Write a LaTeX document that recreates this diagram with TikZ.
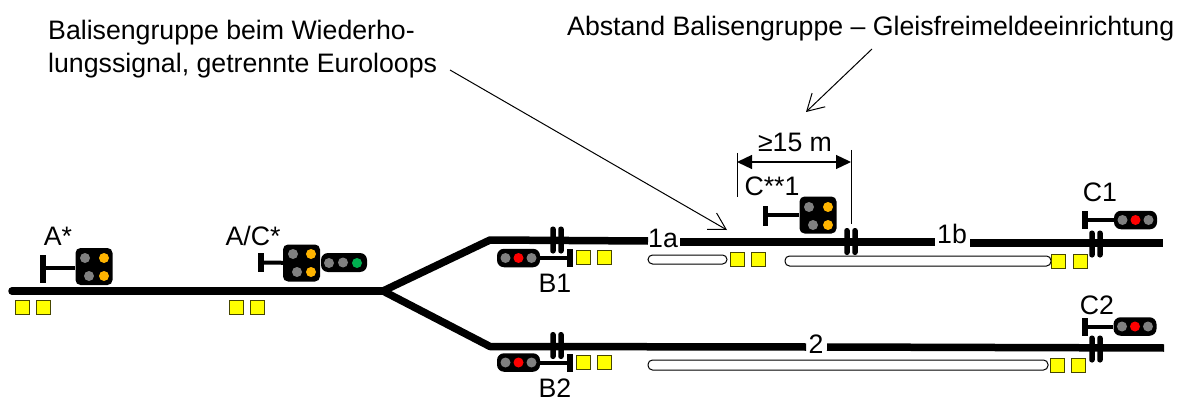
\documentclass[tikz,border=0pt]{standalone}
\usepackage{fontspec}
\setmainfont{Liberation Sans}
\usetikzlibrary{arrows.meta}
\definecolor{lampamber}{RGB}{255,180,0}
\definecolor{lampgreen}{RGB}{0,176,80}
\definecolor{lampgrey}{RGB}{128,128,128}
\definecolor{balisefill}{RGB}{255,255,0}
\definecolor{baliseline}{RGB}{70,70,0}
\tikzset{
	lab/.style={inner sep=0pt,font=\fontsize{26.7}{33}\selectfont},
	track/.style={line width=7.5pt,line join=round},
	balise/.style={rectangle,draw=baliseline,fill=balisefill,line width=1pt,inner sep=0pt,minimum size=14pt},
	joint/.style={rectangle,rounded corners=2.5pt,fill=black,inner sep=0pt,minimum width=5.5pt},
	mast/.style={rectangle,fill=black,inner sep=0pt,minimum width=5.5pt},
	stem/.style={line width=4pt},
	headsq/.style={rectangle,rounded corners=5pt,fill=black,inner sep=0pt,minimum width=37pt,minimum height=37pt},
	headbar/.style={rectangle,rounded corners=7pt,fill=black,inner sep=0pt,minimum width=43pt,minimum height=18.5pt},
	lamp/.style={circle,fill=#1,inner sep=0pt,minimum size=10pt},
	loopbox/.style={draw=black,fill=white,line width=1pt,rounded corners=4.5pt},
	thinline/.style={line width=1pt},
	lead/.style={line width=1pt,-{Straight Barb[length=16.5pt,width=19pt]}}
}
\begin{document}
\begin{tikzpicture}[x=1pt,y=-1pt]
	\useasboundingbox (0,0) rectangle (1189,401);
	% tracks
	\draw[track,line cap=round] (12,291) -- (383,291);
	\draw[track] (383,291) -- (490,240) -- (648,241);
	\draw[track] (383,291) -- (490,346.5) -- (806,347);
	\draw[track] (680,242) -- (935,242);
	\draw[track] (970,243) -- (1163,243);
	\draw[track] (827,347) -- (1164,348);
	% euroloops
	\draw[loopbox] (648,255) rectangle (727,264);
	\draw[loopbox] (785,256) rectangle (1051,266);
	\draw[loopbox] (648,360) rectangle (1048,370);
	% balises
	\node[balise] (ba1) at (22.5,307) {};
	\node[balise] (ba2) at (43.5,307) {};
	\node[balise] (bac1) at (236,307) {};
	\node[balise] (bac2) at (257,307) {};
	\node[balise] (bb1) at (583,257) {};
	\node[balise] (bb2) at (604,257) {};
	\node[balise] (bl1) at (737,259) {};
	\node[balise] (bl2) at (758,259) {};
	\node[balise] (bc1) at (1058,261) {};
	\node[balise] (bc2) at (1080,261) {};
	\node[balise] (bd1) at (583,362) {};
	\node[balise] (bd2) at (604,362) {};
	\node[balise] (be1) at (1057,365) {};
	\node[balise] (be2) at (1078,365) {};
	% insulated joints
	\foreach \jx/\jy/\jn in {553/240/ja,561/240/jb,847/241.5/jc,855/241.5/jd,1092/244/je,1100/244/jf,553/345.5/jg,561/345.5/jh,1092/349/ji,1100/349/jj}
		\node[joint,minimum height=27pt] (\jn) at (\jx,\jy) {};
	% signal A*
	\node[mast,minimum height=28pt] (mA) at (43,269) {};
	\node[headsq] (hA) at (94,266.5) {};
	\draw[stem] (mA.center |- 0,268) -- (hA.west |- 0,268);
	\node[lamp=lampgrey] (lA1) at (85,258) {};
	\node[lamp=lampamber] (lA2) at (104,258) {};
	\node[lamp=lampgrey] (lA3) at (89,276) {};
	\node[lamp=lampamber] (lA4) at (104,276) {};
	% signal A/C*
	\node[mast,minimum height=19pt] (mAC) at (261,262.5) {};
	\node[headsq] (hAC) at (301.5,263) {};
	\node[headbar,minimum width=46pt,minimum height=19pt] (hACb) at (344,262.5) {};
	\draw[stem] (mAC) -- (hAC);
	\node[lamp=lampgrey] (lAC1) at (293,254) {};
	\node[lamp=lampamber] (lAC2) at (311,254) {};
	\node[lamp=lampgrey] (lAC3) at (297,272) {};
	\node[lamp=lampamber] (lAC4) at (311,272) {};
	\node[lamp=lampgrey] (lAC5) at (329,263) {};
	\node[lamp=lampgrey] (lAC6) at (343,262.5) {};
	\node[lamp=lampgreen] (lAC7) at (357,263) {};
	% signal C**1
	\node[mast,minimum height=20pt] (mCC) at (765.5,216) {};
	\node[headsq] (hCC) at (818,215) {};
	\draw[stem] (mCC.center |- 0,215) -- (hCC.west |- 0,215);
	\node[lamp=lampgrey] (lCC1) at (809,207) {};
	\node[lamp=lampamber] (lCC2) at (828,207) {};
	\node[lamp=lampgrey] (lCC3) at (813,225) {};
	\node[lamp=lampamber] (lCC4) at (828,225) {};
	% signals with three lamps
	\foreach \sn/\sx/\sy/\mx in {B1/518.5/258/570,B2/518.5/362.5/570,C1/1135.5/220/1085,C2/1135/326.5/1085}{
		\node[mast,minimum height=18pt] (m\sn) at (\mx,\sy) {};
		\node[headbar] (h\sn) at (\sx,\sy) {};
		\draw[stem] (m\sn) -- (h\sn);
		\node[lamp=lampgrey] (l\sn a) at (\sx-13,\sy) {};
		\node[lamp=red] (l\sn b) at (\sx,\sy) {};
		\node[lamp=lampgrey] (l\sn c) at (\sx+13,\sy) {};
	}
	% distance
	\coordinate (dl1) at (737,153);
	\coordinate (dl2) at (737,197);
	\coordinate (dr1) at (851,150);
	\coordinate (dr2) at (851,224);
	\coordinate (da1) at (737,162);
	\coordinate (da2) at (851,162);
	\draw[thinline] (dl1) -- (dl2);
	\draw[thinline] (dr1) -- (dr2);
	\draw[line width=1.3pt,{Triangle[length=15pt,width=14pt]}-{Triangle[length=15pt,width=14pt]}] (da1) -- (da2);
	% labels
	\node[lab] (distlab) at (795,142) {≥15 m};
	\node[lab] (la) at (58,236) {A*};
	\node[lab] (lac) at (253,236) {A/C*};
	\node[lab] (lcc) at (772,186) {C**1};
	\node[lab] (lb1) at (555,283) {B1};
	\node[lab] (lb2) at (555,388) {B2};
	\node[lab] (lc1) at (1100,192) {C1};
	\node[lab] (lc2) at (1097,305) {C2};
	\node[lab] (l1a) at (663,238) {1a};
	\node[lab] (l1b) at (952,234) {1b};
	\node[lab] (l2) at (816,344) {2};
	\node[lab,anchor=west,align=left] (grouptext) at (48,49) {Balisengruppe beim Wiederho-\\lungssignal, getrennte Euroloops};
	\node[lab,anchor=west] (disttext) at (567,29) {Abstand Balisengruppe – Gleisfreimeldeeinrichtung};
	% leaders
	\coordinate (g1) at (450,70);
	\coordinate (g2) at (727,230);
	\coordinate (d1) at (872,49);
	\coordinate (d2) at (806,112);
	\draw[lead] (g1) -- (g2);
	\draw[lead] (d1) -- (d2);
\end{tikzpicture}
\end{document}
